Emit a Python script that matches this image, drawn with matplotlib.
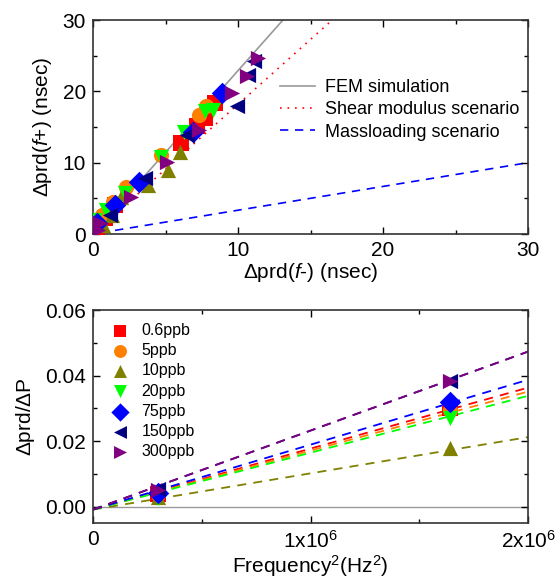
import numpy as np
import matplotlib
matplotlib.use('Agg')
import matplotlib.pyplot as plt
from matplotlib.ticker import MultipleLocator, FixedLocator

plt.rcParams['font.family'] = ['Liberation Sans', 'DejaVu Sans']
plt.rcParams['mathtext.fontset'] = 'custom'
plt.rcParams['mathtext.rm'] = 'Liberation Sans'
plt.rcParams['mathtext.it'] = 'Liberation Sans:italic'

# ---- top panel: delta prd(f+) vs delta prd(f-) ----
labels = ['0.6ppb', '5ppb', '10ppb', '20ppb', '75ppb', '150ppb', '300ppb']
colors = ['#ff0000', '#ff8000', '#808000', '#00ff00', '#0000ff', '#000080', '#800080']
markers = ['s', 'o', '^', 'v', 'D', '<', '>']

top_x = [
    [0.3, 0.8, 1.5, 6.1, 7.2, 7.7, 8.4],
    [0.6, 1.4, 2.3, 4.7, 7.3, 7.8],
    [0.7, 1.3, 1.9, 3.8, 5.2, 6.0],
    [0.15, 0.9, 2.2, 4.7, 6.3, 7.7, 8.3],
    [0.25, 1.5, 3.2, 6.9, 8.9],
    [1.2, 3.6, 6.5, 9.9, 10.7, 11.1],
    [0.37, 0.5, 2.6, 5.1, 7.3, 9.6, 10.6, 11.4],
]
top_y = [
    [0.8, 2.2, 4.0, 12.7, 15.2, 16.3, 18.3],
    [2.7, 4.5, 6.6, 11.1, 16.7, 17.9],
    [1.2, 2.7, 5.2, 6.9, 9.0, 11.5],
    [2.0, 3.4, 5.7, 10.8, 14.3, 17.2, 17.4],
    [1.5, 4.1, 7.3, 14.3, 19.7],
    [2.7, 7.8, 13.9, 17.9, 22.3, 24.3],
    [0.56, 1.5, 5.2, 10.1, 14.6, 19.7, 22.1, 24.7],
]

fem_x = [0, 13.1]
fem_y = [0, 30]
shear_x = [0, 16.5]
shear_y = [0, 30]
mass_x = [0.5, 30]
mass_y = [0.17, 10]

# ---- bottom panel: delta prd / delta P vs frequency^2 ----
freq2 = [0.3e6, 1.64e6]
ratio = [
    [0.0040, 0.0300],
    [0.0038, 0.0295],
    [0.0030, 0.0179],
    [0.0027, 0.0271],
    [0.0042, 0.0318],
    [0.0055, 0.0384],
    [0.0052, 0.0384],
]
fit_x = [0, 2e6]
fit_y = [
    [-0.0009, 0.0363],
    [-0.0009, 0.0351],
    [-0.0009, 0.0212],
    [-0.0009, 0.0338],
    [-0.0009, 0.0387],
    [-0.0009, 0.0473],
    [-0.0009, 0.0473],
]

fig = plt.figure(figsize=(5.55, 5.80), dpi=100)
ax1 = fig.add_axes([93/555, 1 - 234/580, 435/555, 214/580])
ax2 = fig.add_axes([93/555, 1 - 523/580, 435/555, 213/580])

# top
ax1.plot(fem_x, fem_y, color='#999999', lw=1.2, label='FEM simulation', zorder=1)
ax1.plot(shear_x, shear_y, color='#ff0000', lw=1.2, ls=(0, (1, 3.5)), label='Shear modulus scenario', zorder=1)
ax1.plot(mass_x, mass_y, color='#0000ff', lw=1.2, ls=(0, (5, 4)), label='Massloading scenario', zorder=1)
for xs, ys, c, m in zip(top_x, top_y, colors, markers):
    ax1.scatter(xs, ys, color=c, marker=m, s=120, linewidths=0, zorder=3)
ax1.set_xlim(0, 30)
ax1.set_ylim(0, 30)
ax1.xaxis.set_major_locator(MultipleLocator(10))
ax1.yaxis.set_major_locator(MultipleLocator(10))
ax1.xaxis.set_minor_locator(MultipleLocator(5))
ax1.yaxis.set_minor_locator(MultipleLocator(5))
ax1.set_xlabel(r'$\Delta$prd($f$-) (nsec)', fontsize=15, labelpad=1)
ax1.set_ylabel(r'$\Delta$prd($f$+) (nsec)', fontsize=15, labelpad=6)
ax1.legend(loc='upper left', bbox_to_anchor=(0.43, 0.725), frameon=False, fontsize=13,
           handlelength=1.95, handletextpad=0.55, labelspacing=0.3, borderpad=0, borderaxespad=0)

# bottom
ax2.axhline(0, color='#999999', lw=1.0, zorder=1)
for fy, c in zip(fit_y, colors):
    ax2.plot(fit_x, fy, color=c, lw=1.3, ls=(0, (5, 4)), zorder=2)
for ys, c, m, lab in zip(ratio, colors, markers, labels):
    ax2.scatter(freq2, ys, color=c, marker=m, s=120, linewidths=0, zorder=3, label=lab)
ax2.set_xlim(0, 2e6)
ax2.set_ylim(-0.005, 0.06)
ax2.xaxis.set_major_locator(FixedLocator([0, 1e6, 2e6]))
ax2.xaxis.set_minor_locator(FixedLocator([0.5e6, 1.5e6]))
ax2.yaxis.set_major_locator(MultipleLocator(0.02))
ax2.yaxis.set_minor_locator(MultipleLocator(0.01))
ax2.set_xticklabels(['0', r'1x10$^6$', r'2x10$^6$'])
ax2.set_yticks([0, 0.02, 0.04, 0.06])
ax2.set_yticklabels(['0.00', '0.02', '0.04', '0.06'])
ax2.set_xlabel(r'Frequency$^2$(Hz$^2$)', fontsize=15, labelpad=1)
ax2.set_ylabel(r'$\Delta$prd/$\Delta$P', fontsize=15, labelpad=6)
ax2.legend(loc='upper left', bbox_to_anchor=(0.043, 0.94), frameon=False, fontsize=11.5,
           handlelength=1.0, handletextpad=0.85, labelspacing=0.33, borderpad=0,
           borderaxespad=0, scatterpoints=1, markerscale=0.85)

for ax in (ax1, ax2):
    ax.tick_params(which='both', direction='in', top=True, right=True, labelsize=15, pad=5)
    ax.tick_params(which='major', length=5, width=1)
    ax.tick_params(which='minor', length=3, width=1)
    for s in ax.spines.values():
        s.set_linewidth(1.2)
        s.set_color('#333333')

fig.savefig('out.png', dpi=100)
